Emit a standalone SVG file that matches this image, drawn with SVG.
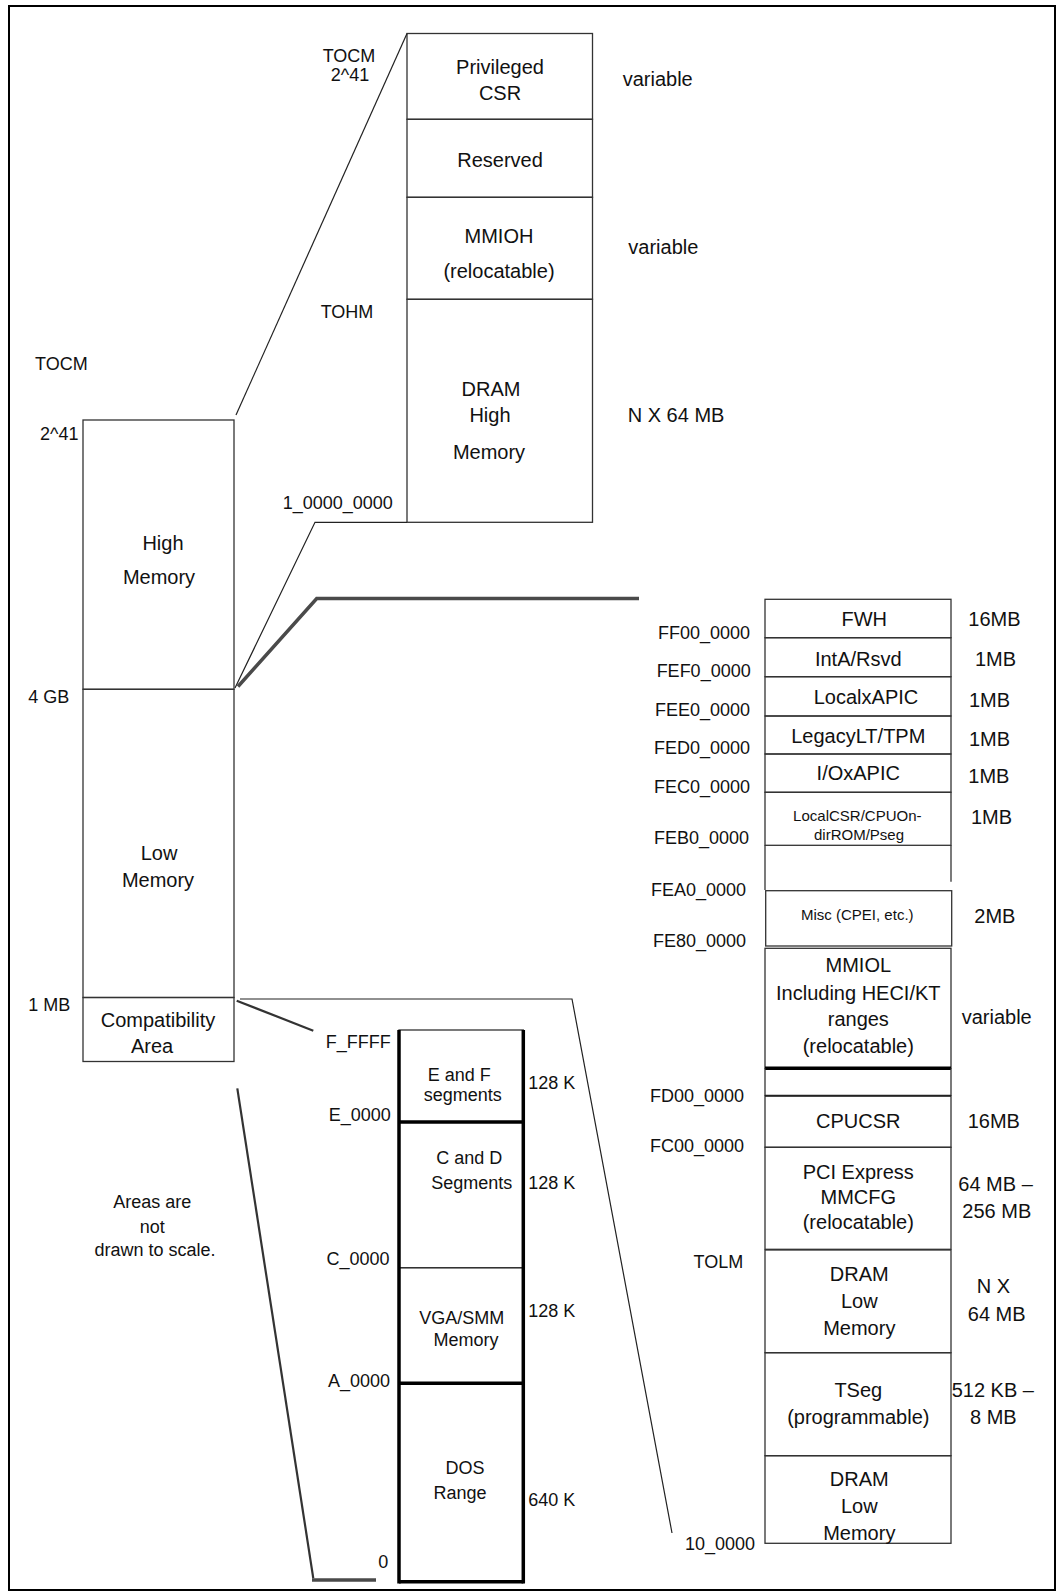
<svg xmlns="http://www.w3.org/2000/svg" width="1057" height="1592" viewBox="0 0 1057 1592">
<style>
text{font-family:"Liberation Sans",Arial,sans-serif;fill:#111}
.f20{font-size:20px}
.f18{font-size:18px}
.f15{font-size:15px}
.c{text-anchor:middle}
.e{text-anchor:end}
.box{fill:none;stroke:#333;stroke-width:1.3}
.ln{fill:none;stroke:#222;stroke-width:1.2}
.dk{fill:none;stroke:#333;stroke-width:2.2}
.hatch{fill:none;stroke:#4a4a4a;stroke-width:3.5}
.thick{fill:none;stroke:#000;stroke-width:3.5}
</style>
<rect x="0" y="0" width="1057" height="1592" fill="#fff"/>
<rect x="9" y="6" width="1046" height="1584" fill="none" stroke="#000" stroke-width="2"/>

<!-- Upper (high memory detail) stack -->
<g id="privileged-csr">
<rect class="box" x="407" y="33.5" width="185.5" height="85.8"/>
<text class="f20 c" x="500" y="74">Privileged</text>
<text class="f20 c" x="500" y="100">CSR</text>
</g>
<g id="reserved">
<rect class="box" x="407" y="119.3" width="185.5" height="78"/>
<text class="f20 c" x="500" y="166.7">Reserved</text>
</g>
<g id="mmioh">
<rect class="box" x="407" y="197.3" width="185.5" height="102"/>
<text class="f20 c" x="499" y="243.3">MMIOH</text>
<text class="f20 c" x="499" y="278">(relocatable)</text>
</g>
<g id="dram-high">
<rect class="box" x="407" y="299.3" width="185.5" height="223"/>
<text class="f20 c" x="491" y="396">DRAM</text>
<text class="f20 c" x="490" y="422">High</text>
<text class="f20 c" x="489" y="459">Memory</text>
</g>
<g id="upper-labels">
<text class="f18 c" x="349" y="61.7">TOCM</text>
<text class="f18 c" x="350" y="80.7">2^41</text>
<text class="f18" x="320.7" y="318.3">TOHM</text>
<text class="f18" x="282.7" y="509.4">1_0000_0000</text>
<text class="f20" x="622.7" y="86">variable</text>
<text class="f20" x="628.3" y="254">variable</text>
<text class="f20" x="627.7" y="421.7">N X 64 MB</text>
</g>

<!-- Left overall stack -->
<g id="high-memory">
<rect class="box" x="83" y="420" width="151" height="269.3"/>
<text class="f20 c" x="163" y="549.6">High</text>
<text class="f20 c" x="159" y="584">Memory</text>
</g>
<g id="low-memory">
<rect class="box" x="83" y="689.3" width="151" height="308.2"/>
<text class="f20 c" x="159" y="860">Low</text>
<text class="f20 c" x="158" y="886.5">Memory</text>
</g>
<g id="compatibility-area">
<rect class="box" x="83" y="997.5" width="151" height="64"/>
<text class="f20 c" x="158" y="1026.7">Compatibility</text>
<text class="f20 c" x="152" y="1053.3">Area</text>
</g>
<g id="left-labels">
<text class="f18" x="35" y="370">TOCM</text>
<text class="f18" x="40" y="440">2^41</text>
<text class="f18" x="28.3" y="702.7">4 GB</text>
<text class="f18" x="28.3" y="1011">1 MB</text>
<text class="f18 c" x="152.3" y="1208.3">Areas are</text>
<text class="f18 c" x="152.3" y="1233.3">not</text>
<text class="f18 c" x="155" y="1256">drawn to scale.</text>
</g>

<!-- Right (low memory detail) stack -->
<g id="fwh">
<rect class="box" x="765" y="599.3" width="186" height="38.4"/>
<text class="f20 c" x="864.3" y="625.7">FWH</text>
</g>
<g id="inta-rsvd">
<rect class="box" x="765" y="637.7" width="186" height="39"/>
<text class="f20 c" x="858.3" y="666">IntA/Rsvd</text>
</g>
<g id="localxapic">
<rect class="box" x="765" y="676.7" width="186" height="39.3"/>
<text class="f20 c" x="866" y="704">LocalxAPIC</text>
</g>
<g id="legacylt-tpm">
<rect class="box" x="765" y="716" width="186" height="38"/>
<text class="f20 c" x="858.3" y="742.7">LegacyLT/TPM</text>
</g>
<g id="ioxapic">
<rect class="box" x="765" y="754" width="186" height="38.3"/>
<text class="f20 c" x="858.3" y="780">I/OxAPIC</text>
</g>
<g id="localcsr">
<rect class="box" x="765" y="792.3" width="186" height="53"/>
<text class="f15 c" x="857.3" y="821">LocalCSR/CPUOn-</text>
<text class="f15 c" x="859" y="840">dirROM/Pseg</text>
</g>
<g id="gap-1">
<line class="box" x1="765" y1="845.3" x2="765" y2="890"/>
<line class="box" x1="951" y1="845.3" x2="951" y2="881.7"/>
</g>
<g id="misc">
<rect class="box" x="765.7" y="890.7" width="186" height="55.3"/>
<text class="f15 c" x="857.3" y="920">Misc (CPEI, etc.)</text>
</g>
<g id="mmiol">
<rect class="box" x="765" y="948.3" width="186" height="120"/>
<line x1="765" y1="1068.3" x2="951" y2="1068.3" stroke="#000" stroke-width="3.5"/>
<text class="f20 c" x="858.3" y="972.3">MMIOL</text>
<text class="f20 c" x="858.3" y="1000">Including HECI/KT</text>
<text class="f20 c" x="858.3" y="1026">ranges</text>
<text class="f20 c" x="858.3" y="1053">(relocatable)</text>
</g>
<g id="gap-2">
<line class="box" x1="765" y1="1068.3" x2="765" y2="1095.7"/>
<line class="box" x1="951" y1="1068.3" x2="951" y2="1095.7"/>
</g>
<g id="cpucsr">
<rect class="box" x="765" y="1095.7" width="186" height="51.6"/>
<line x1="765" y1="1095.7" x2="951" y2="1095.7" stroke="#222" stroke-width="2"/>
<text class="f20 c" x="858.3" y="1127.7">CPUCSR</text>
</g>
<g id="pci-express-mmcfg">
<rect class="box" x="765" y="1147.3" width="186" height="102"/>
<text class="f20 c" x="858.3" y="1179">PCI Express</text>
<text class="f20 c" x="858.3" y="1204.3">MMCFG</text>
<text class="f20 c" x="858.3" y="1229">(relocatable)</text>
</g>
<g id="dram-low-1">
<rect class="box" x="765" y="1250" width="186" height="102.7"/>
<text class="f20 c" x="859.3" y="1280.7">DRAM</text>
<text class="f20 c" x="859.3" y="1307.7">Low</text>
<text class="f20 c" x="859.3" y="1335">Memory</text>
</g>
<g id="tseg">
<rect class="box" x="765" y="1352.7" width="186" height="103"/>
<text class="f20 c" x="858.3" y="1396.7">TSeg</text>
<text class="f20 c" x="858.3" y="1424">(programmable)</text>
</g>
<g id="dram-low-2">
<rect class="box" x="765" y="1455.7" width="186" height="87.6"/>
<text class="f20 c" x="859.3" y="1485.7">DRAM</text>
<text class="f20 c" x="859.3" y="1513.3">Low</text>
<text class="f20 c" x="859.3" y="1540">Memory</text>
</g>
<g id="right-labels">
<text class="f18 e" x="750" y="639.3">FF00_0000</text>
<text class="f18 e" x="750.7" y="676.7">FEF0_0000</text>
<text class="f18 e" x="750" y="716">FEE0_0000</text>
<text class="f18 e" x="750" y="754.3">FED0_0000</text>
<text class="f18 e" x="750" y="793.3">FEC0_0000</text>
<text class="f18 e" x="749" y="844.3">FEB0_0000</text>
<text class="f18 e" x="746" y="896">FEA0_0000</text>
<text class="f18 e" x="746" y="947.3">FE80_0000</text>
<text class="f18 e" x="744" y="1101.7">FD00_0000</text>
<text class="f18 e" x="744" y="1152.3">FC00_0000</text>
<text class="f18 e" x="743.3" y="1268.3">TOLM</text>
<text class="f18 e" x="755" y="1550">10_0000</text>
<text class="f20" x="968.3" y="625.7">16MB</text>
<text class="f20" x="975" y="666">1MB</text>
<text class="f20" x="969" y="707">1MB</text>
<text class="f20" x="969" y="745.7">1MB</text>
<text class="f20" x="968.3" y="783">1MB</text>
<text class="f20" x="971" y="824.3">1MB</text>
<text class="f20" x="974.3" y="922.7">2MB</text>
<text class="f20" x="961.7" y="1024.3">variable</text>
<text class="f20" x="967.7" y="1127.7">16MB</text>
<text class="f20" x="958.3" y="1190.7">64 MB –</text>
<text class="f20" x="962.3" y="1217.7">256 MB</text>
<text class="f20 c" x="993.3" y="1293.3">N X</text>
<text class="f20 c" x="996.7" y="1321">64 MB</text>
<text class="f20" x="951.7" y="1396.7">512 KB –</text>
<text class="f20 c" x="993.3" y="1424.3">8 MB</text>
</g>

<!-- Compatibility area detail stack -->
<g id="e-f-segments">
<rect class="box" x="399" y="1030" width="124.3" height="92"/>
<text class="f18 c" x="459.3" y="1080.7">E and F</text>
<text class="f18 c" x="462.7" y="1101">segments</text>
</g>
<g id="c-d-segments">
<rect class="box" x="399" y="1122" width="124.3" height="145.7"/>
<text class="f18 c" x="469.3" y="1164">C and D</text>
<text class="f18 c" x="471.7" y="1188.5">Segments</text>
</g>
<g id="vga-smm-memory">
<rect class="box" x="399" y="1267.7" width="124.3" height="115.6"/>
<text class="f18 c" x="461.7" y="1324.3">VGA/SMM</text>
<text class="f18 c" x="466" y="1345.7">Memory</text>
</g>
<g id="dos-range">
<rect class="box" x="399" y="1383.3" width="124.3" height="198.4"/>
<text class="f18 c" x="465" y="1474">DOS</text>
<text class="f18 c" x="460" y="1499.3">Range</text>
</g>
<g id="dos-stack-outline">
<line class="thick" x1="399" y1="1030" x2="399" y2="1583.4"/>
<line class="thick" x1="523.3" y1="1030" x2="523.3" y2="1583.4"/>
<line class="thick" x1="399" y1="1122" x2="523.3" y2="1122"/>
<line class="thick" x1="399" y1="1383.3" x2="523.3" y2="1383.3"/>
<line class="thick" x1="399" y1="1581.7" x2="523.3" y2="1581.7"/>
</g>
<g id="dos-labels">
<text class="f18 e" x="390.7" y="1048.3">F_FFFF</text>
<text class="f18 e" x="390.7" y="1121">E_0000</text>
<text class="f18 e" x="389.5" y="1264.5">C_0000</text>
<text class="f18 e" x="390" y="1387">A_0000</text>
<text class="f18 e" x="388.3" y="1568.3">0</text>
<text class="f18" x="528.3" y="1089.3">128 K</text>
<text class="f18" x="528.3" y="1189.3">128 K</text>
<text class="f18" x="528.3" y="1317.3">128 K</text>
<text class="f18" x="528.3" y="1506">640 K</text>
</g>

<!-- Connectors -->
<g id="connectors">
<line class="ln" x1="236" y1="415" x2="407" y2="33.5"/>
<polyline class="ln" points="235,688 315,522.3 407,522.3"/>
<polyline class="hatch" points="238,686.5 316.7,598.5 639,598.5"/>
<polyline class="ln" points="240,999 572,999 672,1533"/>
<line class="dk" x1="236.7" y1="1000.7" x2="313.3" y2="1030.7"/>
<polyline class="dk" points="237.3,1088.3 313.3,1578.3"/>
<line class="hatch" x1="312" y1="1580" x2="376" y2="1580"/>
</g>
</svg>
